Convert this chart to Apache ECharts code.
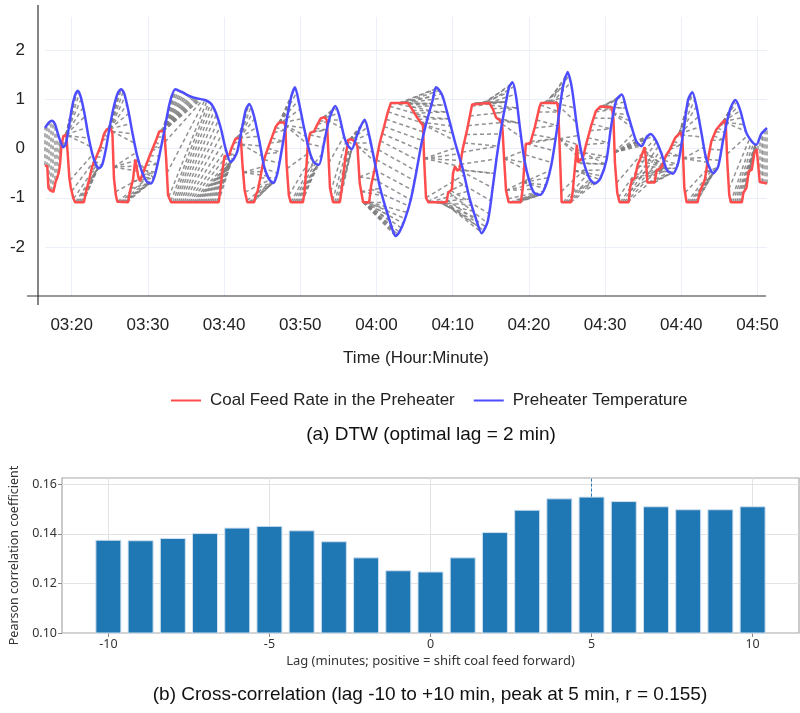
<!DOCTYPE html>
<html>
<head>
<meta charset="utf-8">
<script src="https://cdn.jsdelivr.net/npm/echarts@6.0.0/dist/echarts.min.js"></script>
<style>
  html, body { margin: 0; padding: 0; background: #fff; }
  #chart { width: 800px; height: 713px; }
</style>
</head>
<body>
<div id="chart"></div>
<script>
// time axis is in minutes after 03:00
const coalTimes = [16.5,16.8,16.95,17.2,17.6,17.9,18.1,18.35,18.5,18.65,18.9,19.3,19.55,19.7,19.9,20.2,20.45,21.6,21.9,22.3,22.7,23.2,23.8,24.25,24.6,25.15,25.35,25.55,25.8,26.0,27.4,27.65,28.05,28.35,28.55,28.75,28.95,29.35,30.2,31.1,31.5,32.15,32.4,32.65,33.05,39.3,39.5,39.75,40.05,40.7,41.0,41.5,42.2,42.4,42.7,43.05,43.95,44.15,44.4,44.75,45.1,45.5,46.2,46.8,47.2,47.9,48.05,48.2,48.5,48.75,50.35,50.55,50.75,51.0,51.3,51.8,52.2,52.7,53.2,53.5,53.65,53.9,54.3,55.2,55.5,55.9,56.3,56.7,57.1,57.5,57.8,58.25,59.05,59.3,59.75,60.4,61.0,61.5,61.9,64.1,64.6,65.2,65.7,66.1,66.25,66.5,66.8,69.2,69.4,69.9,70.05,70.3,70.6,70.9,71.3,71.9,72.55,72.8,74.8,75.3,75.7,76.1,76.5,76.75,77.0,77.35,78.95,79.2,79.6,79.9,80.2,80.8,81.4,81.6,83.7,83.85,84.0,84.3,85.55,85.75,86.0,86.3,86.45,86.7,87.1,87.5,88.2,88.8,89.4,90.9,91.1,91.3,91.6,91.9,93.1,93.3,93.55,93.9,94.3,94.75,95.2,95.35,95.55,96.5,96.75,97.4,98.0,98.5,99.2,99.9,100.15,100.4,100.7,102.15,102.4,102.65,103.1,103.5,103.95,104.6,105.3,105.7,105.85,106.05,106.3,106.5,107.95,108.15,108.55,108.85,109.25,109.6,109.9,110.1,110.3,111.25];
const coalValues = [-0.34,-0.36,-0.8,-0.85,-0.88,-0.67,-0.6,-0.45,-0.28,0.05,0.25,0.29,0.26,-0.6,-0.8,-1.0,-1.09,-1.09,-0.87,-0.63,-0.36,-0.18,0.05,0.3,0.39,0.41,0.3,-0.6,-0.95,-1.08,-1.09,-0.87,-0.63,-0.22,-0.24,-0.58,-0.66,-0.5,-0.16,0.18,0.35,0.36,-0.2,-0.95,-1.09,-1.09,-0.85,-0.5,-0.16,-0.12,0.02,0.2,0.22,-0.3,-0.85,-1.09,-1.09,-0.95,-0.87,-0.6,-0.3,-0.1,0.2,0.45,0.53,0.53,0.45,-0.3,-0.95,-1.09,-1.09,-0.9,-0.5,0.1,0.32,0.35,0.48,0.62,0.64,0.58,0.05,-0.8,-1.09,-1.09,-0.75,-0.2,0.18,0.19,0.15,0.05,-0.7,-1.09,-1.09,-0.75,-0.43,0.1,0.45,0.75,0.93,0.93,0.82,0.67,0.55,0.48,-0.2,-1.0,-1.09,-1.09,-0.9,-0.83,-0.5,-0.36,-0.45,-0.42,-0.02,0.39,0.9,0.93,0.93,0.8,0.63,0.59,0.5,-0.2,-0.85,-1.09,-1.09,-0.8,0.1,0.1,0.12,0.45,0.85,0.93,0.93,0.82,0.2,-1.09,-1.09,-0.88,-0.45,0.08,-0.28,-0.32,-0.18,0.08,0.48,0.77,0.86,0.84,0.6,-0.3,-0.9,-1.09,-1.09,-0.78,-0.63,-0.6,-0.32,-0.16,0.03,-0.2,-0.69,-0.69,-0.45,-0.38,-0.14,-0.02,0.22,0.33,0.2,-0.8,-1.09,-1.09,-0.9,-0.8,-0.63,-0.22,0.15,0.39,0.52,0.58,0.45,-0.3,-0.95,-1.09,-1.09,-0.9,-0.8,-0.46,-0.43,-0.08,-0.01,-0.05,-0.68,-0.71];

const tempTimes = [16.5,17.0,17.4,17.8,18.3,18.9,19.2,19.6,20.0,20.4,20.8,21.2,21.7,22.2,22.7,23.2,23.6,24.0,24.5,25.0,25.6,26.1,26.5,26.9,27.4,28.0,28.6,29.3,29.9,30.4,30.9,31.5,32.2,32.9,33.6,34.5,35.5,36.5,37.5,38.2,38.6,39.0,39.6,40.2,40.85,41.3,41.75,42.4,42.85,43.3,43.9,44.6,45.25,45.9,46.45,47.0,47.65,48.3,48.8,49.3,49.85,50.5,51.2,51.8,52.45,53.1,53.8,54.6,55.1,55.8,56.3,56.75,57.5,58.45,59.0,59.7,60.4,61.0,61.7,62.1,62.5,63.0,63.7,64.5,65.2,65.9,66.5,67.4,67.8,68.2,68.7,69.6,70.45,71.3,72.2,73.0,73.8,74.6,75.25,75.8,76.4,77.0,77.4,77.85,78.3,78.8,79.4,80.1,80.7,81.5,82.25,82.95,83.6,84.4,84.7,85.1,85.5,85.8,86.4,87.1,88.0,88.7,89.4,90.2,90.8,91.5,92.2,92.8,93.45,94.1,94.8,95.4,96.0,96.7,97.4,98.1,98.9,99.6,100.25,100.9,101.45,102.0,102.65,103.3,104.2,104.85,105.5,106.4,107.1,107.7,108.55,109.4,109.85,110.5,111.25];
const tempValues = [0.42,0.53,0.57,0.5,0.25,0.03,0.08,0.4,0.8,1.07,1.18,1.05,0.7,0.25,-0.1,-0.33,-0.4,-0.33,0.0,0.45,0.9,1.15,1.21,1.12,0.8,0.3,-0.15,-0.5,-0.68,-0.71,-0.55,-0.15,0.4,0.95,1.21,1.15,1.07,1.02,0.99,0.93,0.84,0.7,0.4,0.0,-0.27,-0.2,-0.05,0.45,0.79,0.91,0.68,0.18,-0.36,-0.62,-0.7,-0.5,0.05,0.66,1.05,1.25,0.92,0.42,-0.05,-0.28,-0.33,0.1,0.6,0.87,0.68,0.22,0.05,-0.01,0.3,0.59,0.3,-0.22,-0.75,-1.1,-1.45,-1.65,-1.78,-1.7,-1.45,-1.04,-0.5,0.1,0.5,1.0,1.25,1.2,1.06,0.55,0.05,-0.4,-1.0,-1.4,-1.72,-1.48,-0.8,-0.15,0.45,0.95,1.25,1.35,1.08,0.46,-0.22,-0.68,-0.9,-0.94,-0.74,-0.33,0.3,1.2,1.4,1.56,1.35,1.07,0.35,-0.22,-0.62,-0.71,-0.6,-0.22,0.46,1.0,1.1,0.8,0.46,0.15,0.05,0.22,0.3,0.16,-0.1,-0.43,-0.51,-0.29,0.32,1.0,1.15,0.86,0.32,-0.22,-0.5,-0.36,0.18,0.8,0.99,0.8,0.32,0.12,0.08,0.3,0.42];

const lagMinutes = [-10,-9,-8,-7,-6,-5,-4,-3,-2,-1,0,1,2,3,4,5,6,7,8,9,10];
const pearsonR = [0.1376,0.1374,0.1383,0.1403,0.1425,0.1432,0.1414,0.1370,0.1305,0.1253,0.1248,0.1305,0.1407,0.1497,0.1543,0.1550,0.1532,0.1511,0.1499,0.1499,0.1511];

const sansTop = 'Liberation Sans, Arial, sans-serif';
const sansBottom = 'Noto Sans, DejaVu Sans, sans-serif';

function clockLabel(m) {
  const h = 3 + Math.floor(m / 60);
  const mm = Math.round(m % 60);
  return String(h).padStart(2, '0') + ':' + String(mm).padStart(2, '0');
}

function pairUp(xs, ys) {
  return xs.map((x, i) => [x, ys[i]]);
}

// value of a traced polyline at time t (only feeds the DTW alignment)
function valueAt(ts, vs, t) {
  if (t <= ts[0]) return vs[0];
  for (let k = 1; k < ts.length; k++) {
    if (t <= ts[k]) {
      const f = (t - ts[k - 1]) / (ts[k] - ts[k - 1]);
      return vs[k - 1] + f * (vs[k] - vs[k - 1]);
    }
  }
  return vs[vs.length - 1];
}

// DTW with a Sakoe-Chiba band of w samples
function dtwPath(a, b, w) {
  const n = a.length, m = b.length;
  const D = [];
  for (let i = 0; i < n; i++) D.push(new Float64Array(m).fill(Infinity));
  for (let i = 0; i < n; i++) {
    for (let j = Math.max(0, i - w); j <= Math.min(m - 1, i + w); j++) {
      const c = Math.abs(a[i] - b[j]);
      if (i === 0 && j === 0) { D[i][j] = c; continue; }
      let best = Infinity;
      if (i > 0) best = Math.min(best, D[i - 1][j]);
      if (j > 0) best = Math.min(best, D[i][j - 1]);
      if (i > 0 && j > 0) best = Math.min(best, D[i - 1][j - 1]);
      D[i][j] = c + best;
    }
  }
  const path = [];
  let i = n - 1, j = m - 1;
  path.push([i, j]);
  while (i > 0 || j > 0) {
    if (i === 0) j--;
    else if (j === 0) i--;
    else {
      const d = D[i - 1][j - 1], u = D[i - 1][j], l = D[i][j - 1];
      if (d <= u && d <= l) { i--; j--; }
      else if (u <= l) i--;
      else j--;
    }
    path.push([i, j]);
  }
  return path.reverse();
}

const tStart = coalTimes[0];
const tEnd = coalTimes[coalTimes.length - 1];
const step = 0.25;
const gridT = [];
for (let t = tStart; t <= tEnd + 1e-9; t += step) gridT.push(+t.toFixed(3));
const coalGrid = gridT.map(t => valueAt(coalTimes, coalValues, t));
const tempGrid = gridT.map(t => valueAt(tempTimes, tempValues, t));
const warp = dtwPath(coalGrid, tempGrid, 20);
const dtwLinks = warp
  .filter(([i, j]) => !(Math.abs(i - j) < 2 && Math.abs(coalGrid[i] - tempGrid[j]) < 0.05))
  .map(([i, j]) => ({ coords: [[gridT[i], coalGrid[i]], [gridT[j], tempGrid[j]]] }));

const peakIdx = pearsonR.indexOf(Math.max(...pearsonR));
const corrMax = 0.1625;

const chart = echarts.init(document.getElementById('chart'));

chart.setOption({
  backgroundColor: '#FFFFFF',
  animation: false,
  title: [
    {
      text: 'Time (Hour:Minute)', left: 416, top: 350, textAlign: 'center', padding: 0,
      textStyle: { fontSize: 17, fontWeight: 'normal', color: '#222', fontFamily: sansTop }
    },
    {
      text: '(a) DTW (optimal lag = 2 min)', left: 431, top: 425, textAlign: 'center', padding: 0,
      textStyle: { fontSize: 19, fontWeight: 'normal', color: '#111', fontFamily: sansTop }
    },
    {
      text: '(b) Cross-correlation (lag -10 to +10 min, peak at 5 min, r = 0.155)', left: 430, top: 685,
      textAlign: 'center', padding: 0,
      textStyle: { fontSize: 19, fontWeight: 'normal', color: '#111', fontFamily: sansTop }
    }
  ],
  legend: {
    data: ['Coal Feed Rate in the Preheater', 'Preheater Temperature'],
    left: 171,
    top: 392,
    padding: 0,
    icon: 'rect',
    itemWidth: 30,
    itemHeight: 2,
    itemGap: 19,
    textStyle: { fontSize: 17, color: '#222', fontFamily: sansTop, padding: [0, 0, 0, 4] }
  },
  grid: [
    { left: 45, right: 33, top: 17, height: 279 },
    { left: 59, right: 1, top: 478, height: 155, show: true, borderColor: '#a8a8a8', borderWidth: 1.2 }
  ],
  xAxis: [
    {
      gridIndex: 0,
      type: 'value',
      min: tStart,
      max: tEnd,
      splitNumber: 10,
      axisLine: { show: false, onZero: false },
      axisTick: { show: false },
      axisLabel: {
        formatter: clockLabel, showMinLabel: false, showMaxLabel: false,
        margin: 21, fontSize: 17, color: '#222', fontFamily: sansTop
      },
      splitLine: { show: true, showMinLine: false, showMaxLine: false, lineStyle: { color: '#ebf0f8', width: 1 } }
    },
    {
      gridIndex: 1,
      type: 'value',
      min: -11.44,
      max: 11.44,
      splitNumber: 5,
      name: 'Lag (minutes; positive = shift coal feed forward)',
      nameLocation: 'middle',
      nameGap: 22,
      nameTextStyle: { fontSize: 13, color: '#333', fontFamily: sansBottom },
      axisLine: { show: false, onZero: false },
      axisTick: { show: true, length: 4, lineStyle: { color: '#888' } },
      axisLabel: {
        showMinLabel: false, showMaxLabel: false,
        margin: 5, fontSize: 12.5, color: '#333', fontFamily: sansBottom
      },
      splitLine: { show: true, showMinLine: false, showMaxLine: false, lineStyle: { color: '#e3e3e3', width: 1 } }
    }
  ],
  yAxis: [
    {
      gridIndex: 0,
      type: 'value',
      min: -3,
      max: 2.68,
      interval: 1,
      axisLine: { show: false, onZero: false },
      axisTick: { show: false },
      axisLabel: {
        showMinLabel: false, showMaxLabel: false,
        margin: 20, fontSize: 17, color: '#222', fontFamily: sansTop
      },
      splitLine: { show: true, showMinLine: false, showMaxLine: false, lineStyle: { color: '#ebf0f8', width: 1 } }
    },
    {
      gridIndex: 1,
      type: 'value',
      min: 0.1,
      max: corrMax,
      interval: 0.02,
      name: 'Pearson correlation coefficient',
      nameLocation: 'middle',
      nameRotate: 90,
      nameGap: 41,
      nameTextStyle: { fontSize: 12.5, color: '#333', fontFamily: sansBottom },
      axisLine: { show: false, onZero: false },
      axisTick: { show: true, length: 4, lineStyle: { color: '#888' } },
      axisLabel: {
        formatter: v => v.toFixed(2), showMaxLabel: false,
        margin: 5, fontSize: 12.5, color: '#333', fontFamily: sansBottom
      },
      splitLine: { show: true, showMinLine: false, showMaxLine: false, lineStyle: { color: '#e3e3e3', width: 1 } }
    }
  ],
  graphic: [
    { type: 'line', shape: { x1: 38, y1: 5, x2: 38, y2: 305 }, style: { stroke: '#333', lineWidth: 1.2 }, z: 10 },
    { type: 'line', shape: { x1: 27, y1: 296, x2: 766, y2: 296 }, style: { stroke: '#333', lineWidth: 1.2 }, z: 10 }
  ],
  series: [
    {
      name: 'DTW',
      type: 'lines',
      coordinateSystem: 'cartesian2d',
      xAxisIndex: 0,
      yAxisIndex: 0,
      z: 1,
      silent: true,
      lineStyle: { color: '#7f7f7f', width: 1.5, type: [4, 3], opacity: 0.85 },
      data: dtwLinks
    },
    {
      name: 'Coal Feed Rate in the Preheater',
      type: 'line',
      xAxisIndex: 0,
      yAxisIndex: 0,
      z: 3,
      showSymbol: false,
      symbol: 'none',
      lineStyle: { color: '#ff4d4d', width: 2.5 },
      itemStyle: { color: '#ff4d4d' },
      data: pairUp(coalTimes, coalValues)
    },
    {
      name: 'Preheater Temperature',
      type: 'line',
      xAxisIndex: 0,
      yAxisIndex: 0,
      z: 4,
      showSymbol: false,
      symbol: 'none',
      smooth: 0.25,
      lineStyle: { color: '#4d4dff', width: 2.5 },
      itemStyle: { color: '#4d4dff' },
      data: pairUp(tempTimes, tempValues)
    },
    {
      name: 'Cross-correlation',
      type: 'bar',
      xAxisIndex: 1,
      yAxisIndex: 1,
      barWidth: 26,
      itemStyle: { color: '#1f77b4', borderColor: '#cfe0ef', borderWidth: 1 },
      data: pairUp(lagMinutes, pearsonR),
      markLine: {
        silent: true,
        symbol: 'none',
        label: { show: false },
        lineStyle: { color: '#2a78b5', type: [3, 2], width: 1 },
        data: [[
          { coord: [lagMinutes[peakIdx], pearsonR[peakIdx]] },
          { coord: [lagMinutes[peakIdx], corrMax] }
        ]]
      }
    }
  ]
});
</script>
</body>
</html>
